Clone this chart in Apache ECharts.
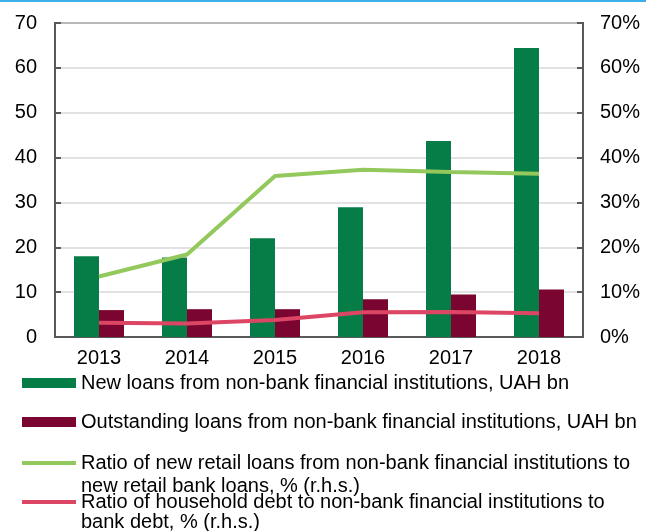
<!DOCTYPE html>
<html>
<head>
<meta charset="utf-8">
<script src="https://cdn.jsdelivr.net/npm/echarts@6/dist/echarts.min.js"></script>
<style>
html,body{margin:0;padding:0;background:#fff;}
#chart{width:646px;height:531px;}
</style>
</head>
<body>
<div id="chart"></div>
<script>
const categories = ['2013', '2014', '2015', '2016', '2017', '2018'];
const newLoans = [18.0, 17.7, 22.0, 28.9, 43.7, 64.4];
const outstandingLoans = [6.0, 6.2, 6.2, 8.4, 9.5, 10.6];
const ratioNewLoans = [13.5, 18.4, 35.9, 37.3, 36.8, 36.4];
const ratioDebt = [3.2, 3.0, 3.8, 5.5, 5.6, 5.3];

const seriesNames = [
  'New loans from non-bank financial institutions, UAH bn',
  'Outstanding loans from non-bank financial institutions, UAH bn',
  'Ratio of new retail loans from non-bank financial institutions to',
  'Ratio of household debt to non-bank financial institutions to'
];
const secondLines = ['new retail bank loans, % (r.h.s.)', 'bank debt, % (r.h.s.)'];

const FONT = '"Liberation Sans", Arial, sans-serif';
const AX = '#595959';
const C = { green: '#067d46', maroon: '#7a0531', lgreen: '#92c85c', pink: '#dc4664' };

function legendAt(name, top, h, color) {
  return {
    left: 22, top: top, orient: 'vertical',
    itemWidth: 54, itemHeight: h, itemGap: 0, padding: 0,
    icon: 'rect',
    data: [{ name: name, icon: 'rect', itemStyle: { color: color } }],
    selectedMode: false,
    textStyle: { fontSize: 20, fontFamily: FONT, color: '#000', lineHeight: 20 }
  };
}

const chart = echarts.init(document.getElementById('chart'), null, { renderer: 'canvas' });
chart.setOption({
  animation: false,
  backgroundColor: '#fff',
  textStyle: { fontFamily: FONT },
  grid: { left: 55, right: 63, top: 23, bottom: 194, show: true, borderColor: AX, borderWidth: 2, backgroundColor: 'transparent' },
  graphic: [
    { type: 'rect', left: 0, top: 0, shape: { width: 646, height: 2 }, style: { fill: '#3daee8' } },
    { type: 'text', left: 81, top: 476, style: { text: secondLines[0], font: '20px ' + FONT, fill: '#000' } },
    { type: 'text', left: 81, top: 512, style: { text: secondLines[1], font: '20px ' + FONT, fill: '#000' } }
  ],
  legend: [
    legendAt(seriesNames[0], 373, 10, C.green),
    legendAt(seriesNames[1], 412, 10, C.maroon),
    legendAt(seriesNames[2], 453, 4, C.lgreen),
    legendAt(seriesNames[3], 492, 4, C.pink)
  ],
  xAxis: {
    type: 'category', data: categories,
    axisLine: { lineStyle: { color: AX, width: 2 } },
    axisTick: { inside: true, length: 6, lineStyle: { color: AX, width: 1.5 } },
    axisLabel: { fontSize: 20, color: '#000', margin: 11, fontFamily: FONT },
    splitLine: { show: false }
  },
  yAxis: [
    {
      type: 'value', min: 0, max: 70, interval: 10,
      axisLine: { show: true, lineStyle: { color: AX, width: 2 } },
      axisTick: { show: true, inside: true, length: 6, lineStyle: { color: AX, width: 2 } },
      axisLabel: { fontSize: 20, color: '#000', margin: 18, fontFamily: FONT },
      splitLine: { show: true, lineStyle: { color: '#d9d9d9', width: 1.5 } }
    },
    {
      type: 'value', min: 0, max: 70, interval: 10, position: 'right',
      axisLine: { show: true, lineStyle: { color: AX, width: 2 } },
      axisTick: { show: true, inside: true, length: 6, lineStyle: { color: AX, width: 2 } },
      axisLabel: { fontSize: 20, color: '#000', margin: 17, fontFamily: FONT, formatter: '{value}%' },
      splitLine: { show: false }
    }
  ],
  series: [
    { name: seriesNames[0], type: 'bar', data: newLoans, barWidth: 25, barGap: '0%', itemStyle: { color: C.green } },
    { name: seriesNames[1], type: 'bar', data: outstandingLoans, barWidth: 25, barGap: '0%', itemStyle: { color: C.maroon } },
    { name: seriesNames[2], type: 'line', yAxisIndex: 1, data: ratioNewLoans, symbol: 'none', lineStyle: { color: C.lgreen, width: 4 }, itemStyle: { color: C.lgreen }, z: 5 },
    { name: seriesNames[3], type: 'line', yAxisIndex: 1, data: ratioDebt, symbol: 'none', lineStyle: { color: C.pink, width: 4 }, itemStyle: { color: C.pink }, z: 5 }
  ]
});
</script>
</body>
</html>
